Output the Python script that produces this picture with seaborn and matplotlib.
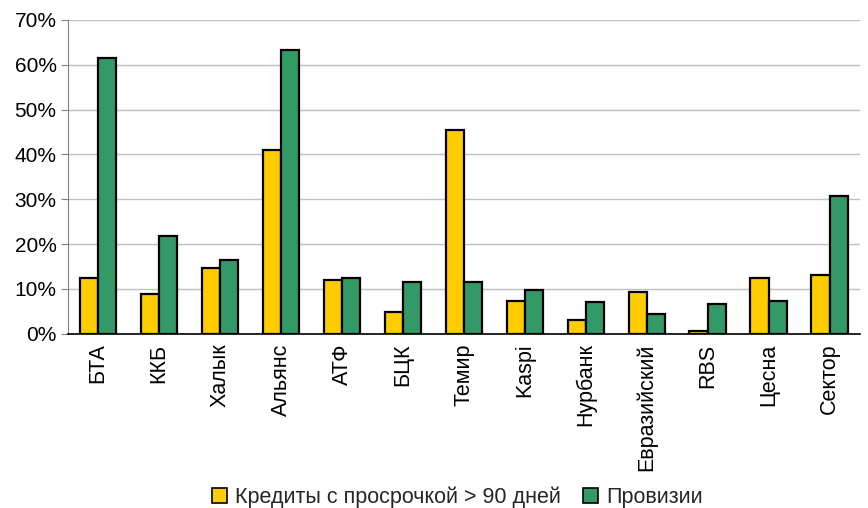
import numpy as np
import pandas as pd
import seaborn as sns
import matplotlib.pyplot as plt
from matplotlib.ticker import PercentFormatter

banks = ['БТА', 'ККБ', 'Халык', 'Альянс', 'АТФ', 'БЦК', 'Темир', 'Kaspi',
         'Нурбанк', 'Евразийский', 'RBS', 'Цесна', 'Сектор']
prosrochka = [12.4, 8.9, 14.7, 41.0, 12.0, 4.8, 45.4, 7.4, 3.1, 9.3, 0.7, 12.5, 13.2]
provizii = [61.5, 21.7, 16.4, 63.2, 12.4, 11.5, 11.5, 9.7, 7.1, 4.4, 6.6, 7.4, 30.7]
series_names = ['Кредиты с просрочкой > 90 дней', 'Провизии']
colors = ['#FFCC00', '#339966']

# длинный формат для seaborn
df = pd.DataFrame({
    'bank': banks * 2,
    'value': prosrochka + provizii,
    'series': [series_names[0]] * len(banks) + [series_names[1]] * len(banks),
})

sns.set_style('white')
plt.rcParams['font.family'] = ['Liberation Sans', 'DejaVu Sans']

fig, ax = plt.subplots(figsize=(8.68, 5.08), dpi=100)
fig.subplots_adjust(left=0.078, right=0.991, top=0.961, bottom=0.343)

sns.barplot(data=df, x='bank', y='value', hue='series', palette=colors, saturation=1,
            width=0.6, edgecolor='black', linewidth=1.6, ax=ax, legend=False)

ax.set_ylim(0, 70)
ax.set_xlim(-0.5, len(banks) - 0.5)
ax.set_yticks(np.arange(0, 71, 10))
ax.yaxis.set_major_formatter(PercentFormatter(decimals=0))
ax.yaxis.grid(True, color='#c0c0c0', linewidth=1)
ax.set_axisbelow(True)
ax.set_xlabel('')
ax.set_ylabel('')

ax.set_xticks(np.arange(len(banks)))
ax.set_xticklabels(banks, rotation=90)
ax.set_xticks(np.arange(-0.5, len(banks), 1), minor=True)
ax.tick_params(axis='x', which='major', length=0, labelsize=15.5, pad=7, labelcolor='black')
ax.tick_params(axis='x', which='minor', length=5, color='#808080', direction='out')
ax.tick_params(axis='y', length=5, color='#808080', direction='out', labelsize=15,
               left=True, labelcolor='black', pad=3)

for s in ['top', 'right']:
    ax.spines[s].set_visible(False)
ax.spines['left'].set_color('#808080')
ax.spines['bottom'].set_color('black')
ax.spines['bottom'].set_linewidth(1.2)

handles = [plt.Rectangle((0, 0), 1, 1, facecolor=c, edgecolor='black', linewidth=1.2) for c in colors]
fig.legend(handles, series_names, loc='lower center', bbox_to_anchor=(0.527, -0.038),
           ncol=2, frameon=False, fontsize=15.5, handlelength=0.7, handleheight=0.7,
           handletextpad=0.4, columnspacing=1.0)

plt.savefig('out.png')
